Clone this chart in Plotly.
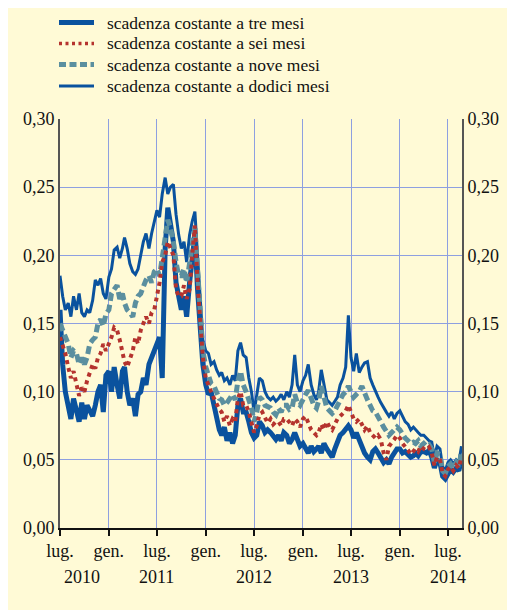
import plotly.graph_objects as go
import datetime as dt

# ---- data (3 readings per month: days 1, 11, 21), Jul 2010 .. Aug 2014 ----
months = [(2010 + (6 + k) // 12, (6 + k) % 12 + 1) for k in range(50)]
dates = [dt.date(y, m, d) for (y, m) in months for d in (1, 11, 21)]

tre_mesi = [
    0.160, 0.120, 0.100,  0.090, 0.080, 0.095,  0.085, 0.078, 0.092,
    0.080, 0.090, 0.085,  0.082, 0.090, 0.100,  0.105, 0.085, 0.112,
    0.115, 0.100, 0.118,  0.105, 0.095, 0.115,  0.118, 0.100, 0.090,
    0.095, 0.082, 0.098,  0.100, 0.110, 0.105,  0.120, 0.125, 0.128,
    0.135, 0.140, 0.110,  0.205, 0.235, 0.225,  0.210, 0.180, 0.170,
    0.160, 0.170, 0.155,  0.180, 0.200, 0.215,  0.175, 0.145, 0.120,
    0.105, 0.098, 0.100,  0.090, 0.080, 0.072,  0.068, 0.074, 0.064,
    0.070, 0.062, 0.068,  0.090, 0.095, 0.085,  0.085, 0.078, 0.070,
    0.066, 0.068, 0.078,  0.075, 0.070, 0.072,  0.070, 0.067, 0.065,
    0.068, 0.064, 0.070,  0.068, 0.062, 0.065,  0.070, 0.066, 0.060,
    0.062, 0.058, 0.055,  0.060, 0.056, 0.058,  0.060, 0.055, 0.062,
    0.058, 0.054, 0.052,  0.058, 0.062, 0.068,  0.070, 0.072, 0.075,
    0.072, 0.066, 0.070,  0.064, 0.058, 0.055,  0.052, 0.050, 0.056,
    0.058, 0.055, 0.052,  0.048, 0.050, 0.047,  0.052, 0.056, 0.058,
    0.058, 0.055, 0.056,  0.054, 0.052, 0.053,  0.055, 0.053, 0.056,
    0.056, 0.055, 0.057,  0.052, 0.044, 0.050,  0.048, 0.038, 0.036,
    0.040, 0.043, 0.041,  0.044, 0.042, 0.050,
]
sei_mesi = [
    0.140, 0.135, 0.128,  0.118, 0.110, 0.115,  0.105, 0.097, 0.103,
    0.100, 0.108, 0.115,  0.120, 0.117, 0.125,  0.128, 0.135, 0.130,
    0.135, 0.140, 0.147,  0.145, 0.138, 0.130,  0.122, 0.118, 0.125,
    0.130, 0.140, 0.135,  0.145, 0.150, 0.155,  0.150, 0.158, 0.160,
    0.170, 0.180, 0.195,  0.200, 0.210, 0.205,  0.200, 0.175, 0.170,
    0.170, 0.178, 0.168,  0.175, 0.200, 0.222,  0.180, 0.150, 0.125,
    0.110, 0.104, 0.100,  0.095, 0.090, 0.087,  0.085, 0.078, 0.082,
    0.075, 0.080, 0.078,  0.095, 0.100, 0.090,  0.090, 0.085, 0.078,
    0.070, 0.075, 0.083,  0.085, 0.080, 0.077,  0.080, 0.076, 0.078,
    0.078, 0.075, 0.080,  0.080, 0.077, 0.075,  0.080, 0.078, 0.074,
    0.080, 0.082, 0.078,  0.072, 0.070, 0.068,  0.070, 0.076, 0.072,
    0.078, 0.074, 0.072,  0.076, 0.080, 0.082,  0.084, 0.086, 0.090,
    0.085, 0.080, 0.078,  0.080, 0.076, 0.072,  0.075, 0.070, 0.068,
    0.066, 0.068, 0.065,  0.055, 0.050, 0.060,  0.062, 0.065, 0.068,
    0.066, 0.062, 0.060,  0.057, 0.054, 0.056,  0.058, 0.056, 0.060,
    0.058, 0.057, 0.059,  0.055, 0.046, 0.052,  0.050, 0.040, 0.038,
    0.043, 0.045, 0.042,  0.046, 0.044, 0.052,
]
nove_mesi = [
    0.150, 0.145, 0.140,  0.135, 0.125, 0.130,  0.128, 0.120, 0.125,
    0.120, 0.125, 0.135,  0.138, 0.140, 0.150,  0.153, 0.148, 0.157,
    0.160, 0.172, 0.175,  0.178, 0.168, 0.172,  0.165, 0.160, 0.158,
    0.155, 0.165, 0.170,  0.172, 0.178, 0.182,  0.185, 0.180, 0.188,
    0.190, 0.185, 0.200,  0.215, 0.226, 0.220,  0.210, 0.195, 0.185,
    0.185, 0.190, 0.180,  0.195, 0.205, 0.220,  0.190, 0.155, 0.130,
    0.118, 0.112, 0.106,  0.104, 0.100, 0.095,  0.094, 0.090, 0.092,
    0.095, 0.098, 0.094,  0.108, 0.115, 0.105,  0.100, 0.095, 0.088,
    0.078, 0.085, 0.096,  0.094, 0.090, 0.089,  0.088, 0.085, 0.083,
    0.088, 0.085, 0.090,  0.090, 0.087, 0.088,  0.098, 0.092, 0.090,
    0.095, 0.098, 0.101,  0.094, 0.090, 0.088,  0.093, 0.104, 0.095,
    0.088, 0.086, 0.084,  0.086, 0.090, 0.094,  0.098, 0.100, 0.104,
    0.100, 0.096, 0.098,  0.100, 0.104, 0.098,  0.094, 0.090, 0.086,
    0.085, 0.082, 0.078,  0.074, 0.070, 0.068,  0.070, 0.072, 0.074,
    0.072, 0.068, 0.066,  0.064, 0.062, 0.063,  0.062, 0.064, 0.060,
    0.062, 0.060, 0.061,  0.058, 0.048, 0.055,  0.054, 0.042, 0.040,
    0.045, 0.047, 0.044,  0.048, 0.045, 0.056,
]
dodici_mesi = [
    0.185, 0.170, 0.160,  0.165, 0.155, 0.170,  0.160, 0.172, 0.158,
    0.155, 0.160, 0.158,  0.167, 0.182, 0.178,  0.183, 0.172, 0.168,
    0.184, 0.190, 0.204,  0.206, 0.198, 0.205,  0.213, 0.205, 0.194,
    0.188, 0.186, 0.190,  0.200, 0.210, 0.216,  0.205, 0.216, 0.225,
    0.233, 0.228, 0.245,  0.257, 0.245, 0.250,  0.252, 0.230, 0.215,
    0.205, 0.210, 0.195,  0.215, 0.225, 0.232,  0.200, 0.165, 0.138,
    0.130, 0.128, 0.120,  0.122, 0.116, 0.112,  0.114, 0.108, 0.110,
    0.105, 0.112, 0.108,  0.130, 0.136, 0.127,  0.125, 0.110, 0.100,
    0.085, 0.098, 0.110,  0.108, 0.100, 0.096,  0.094, 0.096, 0.093,
    0.095, 0.098, 0.094,  0.100, 0.096, 0.105,  0.127, 0.105, 0.100,
    0.108, 0.112, 0.120,  0.105, 0.098, 0.094,  0.100, 0.116, 0.105,
    0.094, 0.092, 0.090,  0.093, 0.096, 0.105,  0.110, 0.118, 0.156,
    0.125, 0.115, 0.128,  0.114, 0.118, 0.121,  0.122, 0.110, 0.105,
    0.100, 0.096, 0.092,  0.088, 0.085, 0.082,  0.085, 0.080, 0.084,
    0.086, 0.082, 0.078,  0.076, 0.072, 0.074,  0.072, 0.070, 0.068,
    0.068, 0.066, 0.064,  0.063, 0.052, 0.060,  0.058, 0.045, 0.042,
    0.048, 0.050, 0.047,  0.050, 0.048, 0.060,
]

tick_dates = ["2010-07-01", "2011-01-01", "2011-07-01", "2012-01-01", "2012-07-01",
              "2013-01-01", "2013-07-01", "2014-01-01", "2014-07-01"]
tick_text = ["lug.", "gen.", "lug.", "gen.", "lug.", "gen.", "lug.", "gen.", "lug."]
year_labels = ["2010", "2011", "2012", "2013", "2014"]
year_pos = ["2010-09-22", "2011-07-01", "2012-07-01", "2013-07-01", "2014-07-01"]

names = ["scadenza costante a tre mesi", "scadenza costante a sei mesi",
         "scadenza costante a nove mesi", "scadenza costante a dodici mesi"]

BLUE = "#0a529e"
TEAL = "#5b8f9f"
RED = "#b5332e"
BG = "#fffad6"
GRID = "#8e9fe0"
FONT = "Liberation Serif, Times New Roman, serif"

W, H = 515, 610
OFF = 8                      # page offset of the plot div
SL, SR, ST, SB = 60, 462, 119, 528   # plot area in screen pixels
L, T = SL - OFF, ST - OFF
PW, PH = SR - SL, SB - ST
R, B = W - L - PW, H - T - PH


def px_x(px):
    return (px - SL) / PW


def px_y(py):
    return (SB - py) / PH


styles = [dict(color=BLUE, width=5),
          dict(color=RED, width=4, dash="4px,4px"),
          dict(color=TEAL, width=5, dash="8px,4px"),
          dict(color=BLUE, width=3)]
series = [tre_mesi, sei_mesi, nove_mesi, dodici_mesi]
draw_order = [0, 3, 2, 1]

fig = go.Figure()
for i in draw_order:
    fig.add_trace(go.Scatter(x=dates, y=series[i], name=names[i], mode="lines",
                             line=styles[i], showlegend=False))
# invisible trace carrying the right-hand axis
fig.add_trace(go.Scatter(x=dates, y=tre_mesi, yaxis="y2", mode="lines",
                         line=dict(width=0), showlegend=False, hoverinfo="skip"))

# legend (text + key lines above the plot, as in the reference)
legend_rows = [22.5, 43.5, 64.5, 86]
legend_keys = [dict(color=BLUE, width=5),
               dict(color=RED, width=3.5, dash="3px,3.5px"),
               dict(color=TEAL, width=5, dash="7px,3.5px"),
               dict(color=BLUE, width=3)]
for nm, ry, key in zip(names, legend_rows, legend_keys):
    fig.add_shape(type="line", xref="paper", yref="paper",
                  x0=px_x(59), x1=px_x(94), y0=px_y(ry), y1=px_y(ry), line=key)
    fig.add_annotation(x=px_x(105), y=px_y(ry), xref="paper", yref="paper",
                       text=nm, showarrow=False, xanchor="left", yanchor="middle",
                       font=dict(family=FONT, size=17.5, color="#111"))

for lab, pos in zip(year_labels, year_pos):
    fig.add_annotation(x=pos, y=0, xref="x", yref="paper", yshift=-49,
                       text=lab, showarrow=False, yanchor="middle",
                       font=dict(family=FONT, size=18, color="#111"))

fig.update_layout(
    width=W, height=H,
    margin=dict(l=L, r=R, t=T, b=B, autoexpand=False),
    paper_bgcolor=BG, plot_bgcolor=BG,
    separators=",.",
    showlegend=False,
    font=dict(family=FONT, size=18, color="#111"),
    xaxis=dict(type="date", range=["2010-07-01", "2014-08-23"],
               tickvals=tick_dates, ticktext=tick_text,
               showgrid=True, gridcolor=GRID, gridwidth=1,
               showline=True, linecolor="#111", linewidth=1.5,
               ticks="outside", ticklen=6, tickcolor="#111", tickwidth=1.5,
               tickfont=dict(family=FONT, size=18), zeroline=False),
    yaxis=dict(range=[0, 0.30], tickvals=[0, 0.05, 0.10, 0.15, 0.20, 0.25, 0.30],
               tickformat=".2f", showgrid=True, gridcolor=GRID, gridwidth=1,
               showline=True, linecolor="#555", linewidth=2, zeroline=False,
               ticks="", tickfont=dict(family=FONT, size=18)),
    yaxis2=dict(range=[0, 0.30], tickvals=[0, 0.05, 0.10, 0.15, 0.20, 0.25, 0.30],
                tickformat=".2f", overlaying="y", side="right", showgrid=False,
                showline=True, linecolor="#555", linewidth=2, zeroline=False,
                ticks="", tickfont=dict(family=FONT, size=18)),
)

fig.write_html("out.html")
